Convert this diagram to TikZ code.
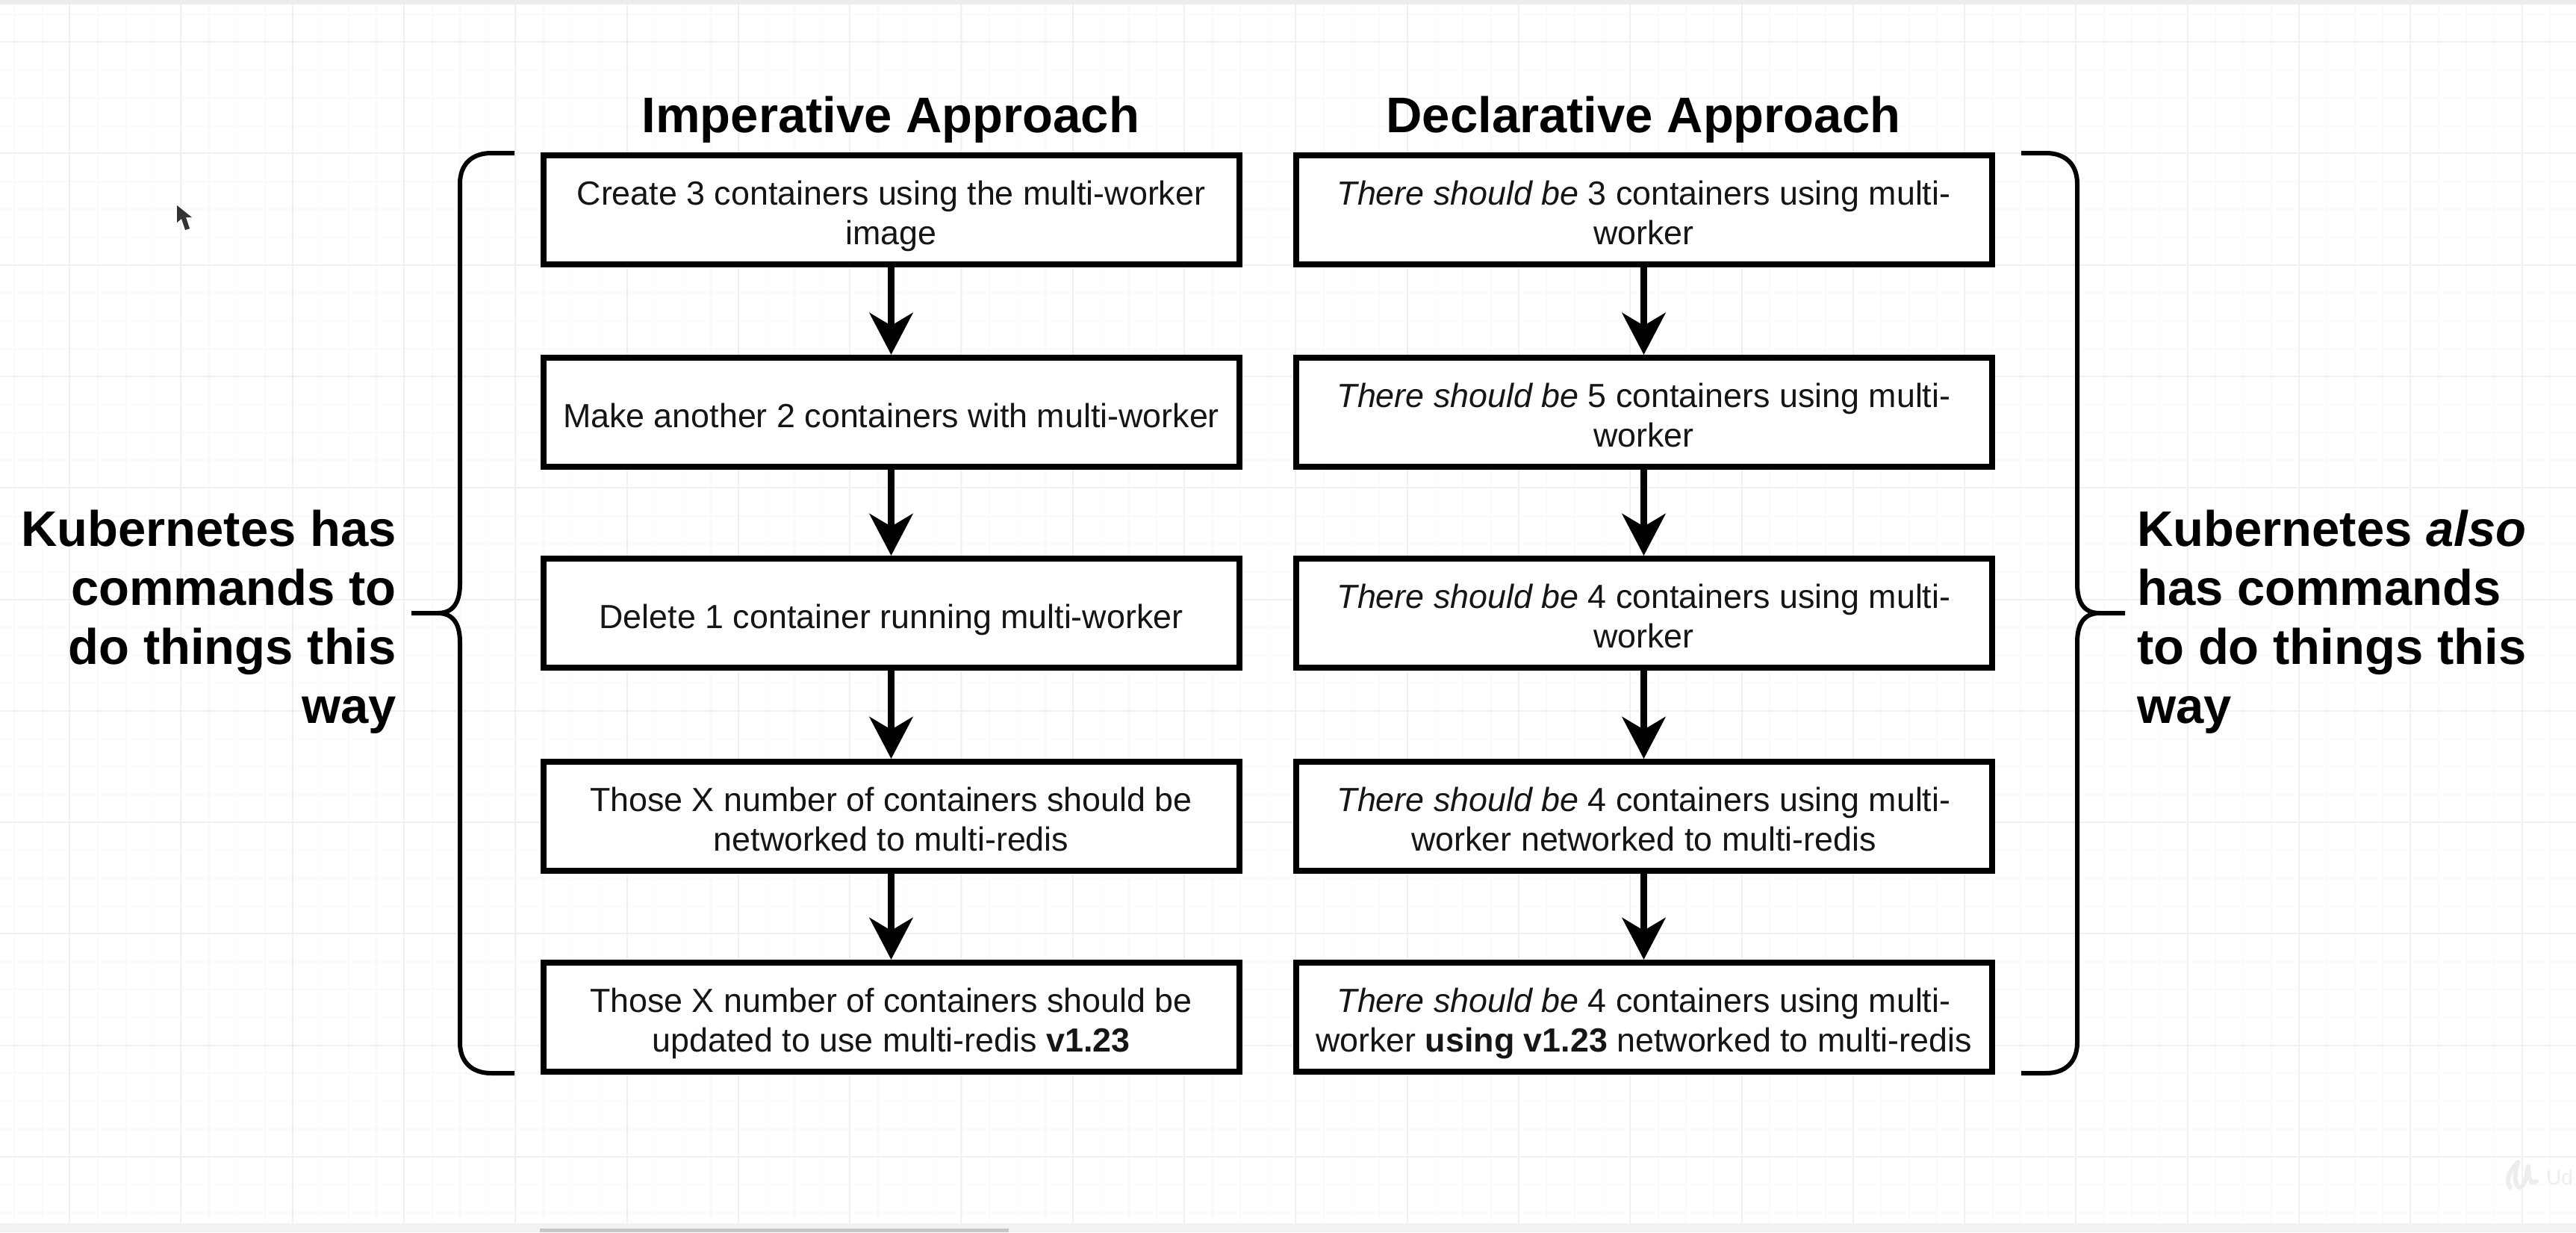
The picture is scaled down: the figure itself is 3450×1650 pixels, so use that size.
\documentclass[tikz,border=0pt]{standalone}
\usepackage{fontspec}
\setmainfont{Liberation Sans}
\usetikzlibrary{arrows.meta}
\definecolor{inkc}{HTML}{151515}
\definecolor{gridmaj}{HTML}{F0F0F0}
\definecolor{gridmin}{HTML}{FAFAFA}
\definecolor{markc}{HTML}{EDEDED}
\newcommand{\bodyf}{\fontsize{44.8}{53}\selectfont}
\newcommand{\headf}{\fontsize{67}{79}\selectfont\bfseries}
\newcommand{\twolines}[2]{\rule{0pt}{51pt}#1\\#2\rule[-12pt]{0pt}{12pt}}
\tikzset{
  x=1pt,y=-1pt,
  basebox/.style={draw=black,line width=8pt,fill=white,minimum width=932pt,minimum height=146pt,inner sep=0pt,align=center,text=inkc,font=\bodyf},
  flowbox/.style={basebox,execute at begin node={\rule{0pt}{52pt}},execute at end node={\rule[-12pt]{0pt}{12pt}}},
  flowarrow/.style={draw=black,line width=9pt,-{Stealth[length=56pt,width=58pt,inset=17pt]}},
  headlabel/.style={inner sep=0pt,text=black,font=\headf,align=center},
  sidelabel/.style={inner sep=0pt,text=black,font=\headf},
  bracestyle/.style={draw=black,line width=6pt,line cap=butt}
}
\begin{document}
\begin{tikzpicture}
\useasboundingbox (0,0) rectangle (3450,1650);
\fill[white] (0,0) rectangle (3450,1650);
% grid
\foreach \k in {0,...,92}{\draw[gridmin,line width=1.5pt] ({19+37.32*\k},6) -- ({19+37.32*\k},1638);}
\foreach \k in {0,...,44}{\draw[gridmin,line width=1.5pt] (0,{19+37.32*\k}) -- (3450,{19+37.32*\k});}
\foreach \k in {0,...,22}{\draw[gridmaj,line width=2pt] ({93+149.3*\k},6) -- ({93+149.3*\k},1638);}
\foreach \k in {0,...,10}{\draw[gridmaj,line width=2pt] (0,{56+149.3*\k}) -- (3450,{56+149.3*\k});}
% window strips
\fill[gray!15] (0,0) rectangle (3450,6);
\fill[gray!10] (0,1638) rectangle (3450,1650);
\fill[gray!45] (723,1645) rectangle (1351,1650);
% cursor
\fill[black!80] (237,275) -- (237,298) -- (243,293) -- (248,308) -- (254,306) -- (249,291) -- (257,291) -- cycle;
% watermark
\draw[markc,line width=6pt,line cap=round,line join=round] (3362,1590) .. controls (3352,1575) and (3370,1560) .. (3372,1556) .. controls (3368,1570) and (3366,1585) .. (3374,1590) .. controls (3382,1590) and (3384,1570) .. (3386,1562) .. controls (3386,1575) and (3388,1588) .. (3397,1582);
\node[inner sep=0pt,anchor=west,text=markc,font=\fontsize{28}{30}\selectfont] (wm) at (3410,1576) {Ud};
% titles
\node[headlabel] (ht1) at (1193,160) {Imperative Approach};
\node[headlabel] (ht2) at (2201,160) {Declarative Approach};
% left column
\node[basebox] (a1) at (1193.5,281) {\twolines{Create 3 containers using the multi-worker}{image}};
\node[flowbox] (a2) at (1193.5,552) {Make another 2 containers with multi-worker};
\node[flowbox] (a3) at (1193.5,821) {Delete 1 container running multi-worker};
\node[basebox] (a4) at (1193.5,1093) {\twolines{Those X number of containers should be}{networked to multi-redis}};
\node[basebox] (a5) at (1193.5,1362) {\twolines{Those X number of containers should be}{updated to use multi-redis \textbf{v1.23}}};
% right column
\node[basebox] (b1) at (2201.5,281) {\twolines{\textit{There should be} 3 containers using multi-}{worker}};
\node[basebox] (b2) at (2201.5,552) {\twolines{\textit{There should be} 5 containers using multi-}{worker}};
\node[basebox] (b3) at (2201.5,821) {\twolines{\textit{There should be} 4 containers using multi-}{worker}};
\node[basebox] (b4) at (2201.5,1093) {\twolines{\textit{There should be} 4 containers using multi-}{worker networked to multi-redis}};
\node[basebox] (b5) at (2201.5,1362) {\twolines{\textit{There should be} 4 containers using multi-}{worker \textbf{using v1.23} networked to multi-redis}};
% arrows
\foreach \p/\q in {1/2,2/3,3/4,4/5}{
  \draw[flowarrow] (a\p) -- (a\q);
  \draw[flowarrow] (b\p) -- (b\q);
}
% braces
\draw[bracestyle] (689,205) -- (658,205) .. controls (632,205) and (616,220) .. (616,246) -- (616,782)
  .. controls (616,808) and (606,821) .. (586,821) -- (551,821)
  (586,821) .. controls (606,821) and (616,834) .. (616,860) -- (616,1396)
  .. controls (616,1422) and (632,1437) .. (658,1437) -- (689,1437);
\draw[bracestyle] (2707,205) -- (2740,205) .. controls (2766,205) and (2782,220) .. (2782,246) -- (2782,782)
  .. controls (2782,808) and (2792,821) .. (2812,821) -- (2846,821)
  (2812,821) .. controls (2792,821) and (2782,834) .. (2782,860) -- (2782,1396)
  .. controls (2782,1422) and (2766,1437) .. (2740,1437) -- (2707,1437);
% side labels
\node[sidelabel,align=right,anchor=east] (sl) at (531,833) {Kubernetes has\\commands to\\do things this\\way};
\node[sidelabel,align=left,anchor=west] (sr) at (2862,833) {Kubernetes \textit{also}\\has commands\\to do things this\\way};
\end{tikzpicture}
\end{document}
